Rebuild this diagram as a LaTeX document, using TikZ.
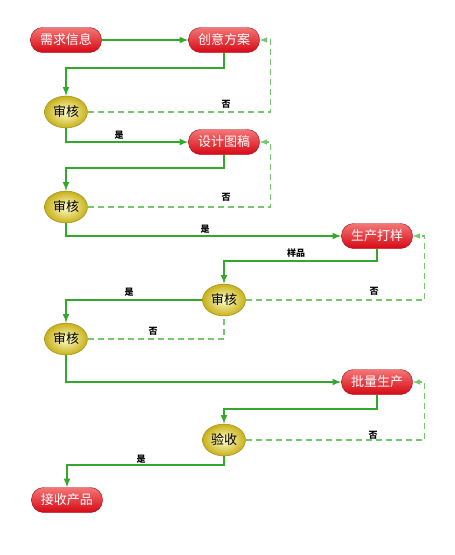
\documentclass[tikz,border=0pt]{standalone}
\usepackage{fontspec}
\newfontfamily\cjk{Noto Sans CJK SC}
\usetikzlibrary{shapes.geometric}
\definecolor{lineg}{RGB}{52,168,44}
\definecolor{dashg}{RGB}{118,200,108}
\definecolor{boxtop}{RGB}{244,118,118}
\definecolor{boxbot}{RGB}{214,8,20}
\definecolor{goldin}{RGB}{255,255,205}
\definecolor{goldout}{RGB}{200,176,24}
\tikzset{
  stepbox/.style={draw=boxbot!75!black, rounded corners=12pt,
    minimum width=71pt, minimum height=25pt, top color=boxtop,
    bottom color=boxbot, text=white,
    font=\cjk\fontsize{13}{13}\selectfont},
  check/.style={ellipse, draw=goldout!75!black, inner sep=0pt,
    minimum width=43pt, minimum height=32pt, inner color=goldin,
    outer color=goldout, font=\cjk\fontsize{13}{13}\selectfont},
  flow/.style={lineg, line width=2pt, -latex},
  back/.style={dashg, line width=1.5pt, dash pattern=on 6pt off 4pt},
  lbl/.style={font=\cjk\bfseries\fontsize{9}{9}\selectfont}
}

\begin{document}
\begin{tikzpicture}[x=1pt, y=-1pt]
  \useasboundingbox (0,0) rectangle (455,555);

  % steps
  \node[stepbox] (need)    at (66, 40)  {需求信息};
  \node[stepbox] (idea)    at (224, 40) {创意方案};
  \node[stepbox] (design)  at (224, 142) {设计图稿};
  \node[stepbox] (sample)  at (377, 236) {生产打样};
  \node[stepbox] (mass)    at (377, 382) {批量生产};
  \node[stepbox] (receive) at (67, 500) {接收产品};

  % checks
  \node[check] (chk1) at (66, 112) {审核};
  \node[check] (chk2) at (66, 207) {审核};
  \node[check] (chk3) at (224, 300) {审核};
  \node[check] (chk4) at (66, 339) {审核};
  \node[check] (accept) at (224, 440) {验收};

  % main flow
  \draw[flow] (need) -- (idea);
  \draw[flow] (idea.south) -- ++(0,15) -| (chk1.north);
  \draw[flow] (chk1.south) |- (design.west);
  \draw[flow] (design.south) -- ++(0,13) -| (chk2.north);
  \draw[flow] (chk2.south) |- (sample.west);
  \draw[flow] (sample.south) -- ++(0,12) -| (chk3.north);
  \draw[flow] (chk3.west) -| (chk4.north);
  \draw[flow] (chk4.south) |- (mass.west);
  \draw[flow] (mass.south) -- ++(0,14) -| (accept.north);
  \draw[flow] (accept.south) -- ++(0,9) -| (receive.north);

  % loops back
  \draw[back, -latex] (chk1.east) -| ([xshift=11pt]idea.east) -- (idea.east);
  \draw[back, -latex] (chk2.east) -| ([xshift=11pt]design.east) -- (design.east);
  \draw[back, -latex] (chk3.east) -| ([xshift=12pt]sample.east) -- (sample.east);
  \draw[back] (chk4.east) -| (chk3.south);
  \draw[back, -latex] (accept.east) -| ([xshift=12pt]mass.east) -- (mass.east);

  % labels
  \node[lbl] (no1)  at (226, 104) {否};
  \node[lbl] (yes1) at (119, 135) {是};
  \node[lbl] (no2)  at (226, 197) {否};
  \node[lbl] (yes2) at (205, 229) {是};
  \node[lbl] (smp)  at (296, 253) {样品};
  \node[lbl] (no3)  at (374, 291) {否};
  \node[lbl] (yes3) at (129, 292) {是};
  \node[lbl] (no4)  at (153, 331) {否};
  \node[lbl] (no5)  at (373, 435) {否};
  \node[lbl] (yes5) at (141, 459) {是};
\end{tikzpicture}
\end{document}
